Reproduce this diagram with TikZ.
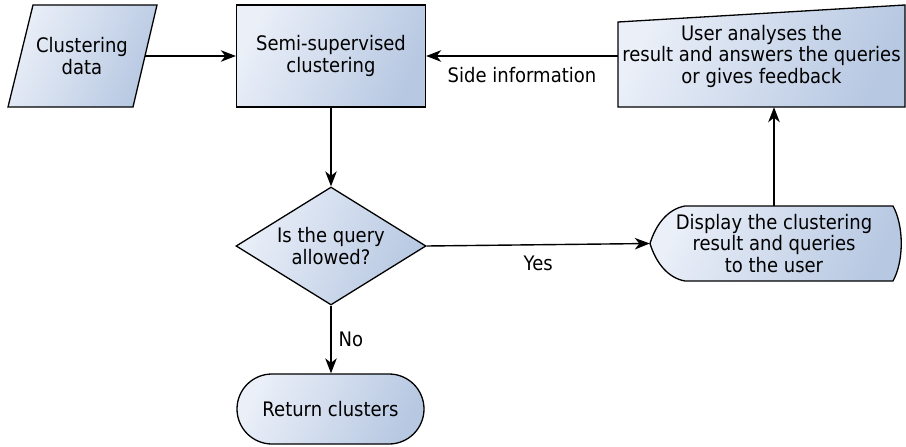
\documentclass[tikz,border=0pt]{standalone}
\usepackage{fontspec}
\setmainfont[FakeStretch=0.9]{DejaVu Sans}
\usetikzlibrary{arrows.meta,shapes.geometric}
\definecolor{gLight}{RGB}{234,239,248}
\definecolor{gDark}{RGB}{183,200,226}
\begin{document}
\begin{tikzpicture}[x=1pt,y=-1pt,
  shadefill/.style={draw=black, line width=1.3pt, top color=gLight, bottom color=gDark, shading angle=65},
  txt/.style={font=\fontsize{20}{21.5}\selectfont, align=center, inner sep=0pt},
  lbl/.style={font=\fontsize{20}{21.5}\selectfont, inner sep=0pt},
  arr/.style={-{Stealth[length=15pt,width=11.5pt,inset=4.5pt]}, line width=1.4pt}
]
\useasboundingbox (0,0) rectangle (906,447);

% shapes drawn directly
\path[shadefill] (33,5) -- (157,5) -- (133,107) -- (8,107) -- cycle;
\path[shadefill] (618,22) -- (905,5) -- (905,107) -- (618,107) -- cycle;
\path[shadefill] (650,243.5) .. controls (656,224) and (668,209) .. (685,206) -- (893,206)
  .. controls (904,226) and (904,261) .. (893,281) -- (685,281)
  .. controls (668,278) and (656,263) .. (650,243.5) -- cycle;

% nodes
\node[txt, minimum width=126pt, minimum height=102pt] (data) at (82,56) {Clustering\\data};
\node[txt, shadefill, minimum width=189pt, minimum height=102pt] (semi) at (331,56) {Semi-supervised\\clustering};
\node[txt, minimum width=287pt, minimum height=102pt] (user) at (761.5,56) {User analyses the\\result and answers the queries\\or gives feedback};
\node[txt, shadefill, diamond, aspect=1.61, minimum width=190pt, minimum height=118pt] (diam) at (331,246) {Is the query\\allowed?};
\node[txt, minimum width=248pt, minimum height=75pt] (disp) at (774,243.5) {Display the clustering\\result and queries\\to the user};
\node[txt, shadefill, rounded corners=35pt, minimum width=187pt, minimum height=70pt] (ret) at (330.5,409) {Return clusters};

% connectors
\draw[arr] (data.east) -- (semi.west);
\draw[arr] (user.west) -- node[lbl, below=11pt] {Side information} (semi.east);
\draw[arr] (semi.south) -- (semi.south |- diam.north);
\draw[arr] (diam.east) -- node[lbl, below=10pt] {Yes} (disp.west);
\draw[arr] (disp.north) -- (disp.north |- user.south);
\draw[arr] (diam.south) -- node[lbl, right=7pt] {No} (diam.south |- ret.north);
\end{tikzpicture}
\end{document}
